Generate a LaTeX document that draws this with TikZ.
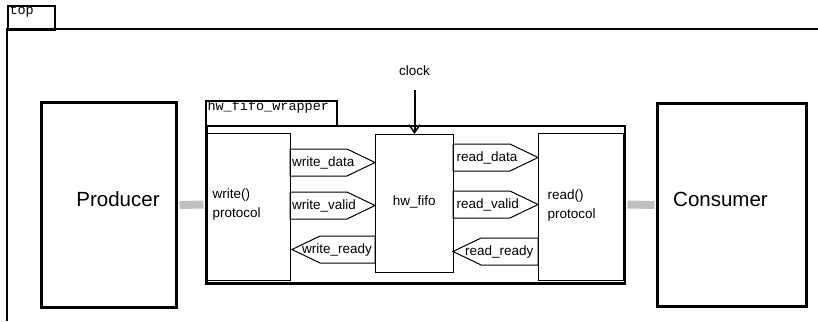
\documentclass[tikz,border=0pt]{standalone}
\usepackage{fontspec}
\setmainfont{Liberation Sans}
\newfontfamily\monof{Liberation Mono}
\usetikzlibrary{arrows.meta}
\tikzset{
  frameline/.style={line width=2pt},
  bigbox/.style={draw, line width=3pt, inner sep=0pt, anchor=north west},
  innerbox/.style={draw, line width=1pt, inner sep=0pt, anchor=north west},
  wrapbox/.style={draw, line width=2.5pt, inner sep=0pt, anchor=north west},
  tabbox/.style={draw, line width=2pt, inner sep=0pt, anchor=north west},
  port/.style={draw, line width=1pt},
  lbl/.style={font=\fontsize{13.5}{19}\selectfont, inner sep=0pt},
  biglbl/.style={font=\fontsize{20.5}{24}\selectfont, inner sep=0pt},
  monolbl/.style={font=\monof\fontsize{13.5}{16}\selectfont, inner sep=0pt},
  bus/.style={line width=8pt, draw=gray!50, shorten <=1.5pt, shorten >=1.5pt},
  clkarrow/.style={line width=2pt, -{Straight Barb[length=8pt,width=11pt,line width=1.5pt]}}
}
\begin{document}
\begin{tikzpicture}[x=1pt,y=-1pt]
\useasboundingbox (0,0) rectangle (818,321);
% top frame
\node[tabbox, minimum width=46.5pt, minimum height=24pt] (toptab) at (7,5) {};
\node[monolbl, anchor=base west] (toplbl) at (9.3,15) {top};
\coordinate (fbl) at (7,321);
\coordinate (ftl) at (7,29);
\coordinate (ftr) at (818,29);
\draw[frameline] (fbl) -- (ftl) -- (ftr);
% producer / consumer / wrapper
\node[bigbox, minimum width=135pt, minimum height=205pt] (prod) at (40,101) {};
\node[bigbox, minimum width=149pt, minimum height=203pt] (cons) at (656,102) {};
\node[wrapbox, minimum width=418.5pt, minimum height=157.5pt] (wrap) at (205,124.5) {};
\draw[bus] (prod.east) -- (wrap.west);
\draw[bus] (wrap.east) -- (cons.west);
\node[biglbl, anchor=base] (prodlbl) at (118,206) {Producer};
\node[biglbl, anchor=base] (conslbl) at (720.5,206) {Consumer};
% wrapper tab
\node[tabbox, minimum width=131pt, minimum height=24.5pt] (wraptab) at (205,100) {};
\node[monolbl, anchor=base west] (wraplbl) at (207.3,110.7) {hw\_fifo\_wrapper};
% inner boxes
\node[innerbox, minimum width=85pt, minimum height=147pt] (wbox) at (205,133) {};
\node[innerbox, minimum width=78pt, minimum height=138pt] (fifo) at (375,134) {};
\node[innerbox, minimum width=85pt, minimum height=147pt] (rbox) at (538,133) {};
\node[lbl, anchor=north west, align=left] (wtxt) at (212.5,188.5) {write()\\protocol};
\node[lbl, anchor=north west, align=left] (rtxt) at (547.5,189.5) {read()\\protocol};
\node[lbl, anchor=base] (fifotxt) at (414.3,205.4) {hw\_fifo};
% ports
\draw[port] (290,149) -- (347,149) -- (375,162.5) -- (347,176) -- (290,176) -- cycle;
\node[lbl, anchor=base west] (wd) at (292,166) {write\_data};
\draw[port] (290,192) -- (347,192) -- (375,205.5) -- (347,219) -- (290,219) -- cycle;
\node[lbl, anchor=base west] (wv) at (292,209) {write\_valid};
\draw[port] (375,236) -- (320,236) -- (292,249.5) -- (320,263) -- (375,263) -- cycle;
\node[lbl, anchor=base west] (wr) at (302,253) {write\_ready};
\draw[port] (453,144) -- (510,144) -- (538,157.5) -- (510,171) -- (453,171) -- cycle;
\node[lbl, anchor=base west] (rd) at (456.5,161) {read\_data};
\draw[port] (453,191) -- (510,191) -- (538,204.5) -- (510,218) -- (453,218) -- cycle;
\node[lbl, anchor=base west] (rv) at (456.5,208) {read\_valid};
\draw[port] (538,238) -- (481,238) -- (453,251.5) -- (481,265) -- (538,265) -- cycle;
\node[lbl, anchor=base west] (rr) at (465,255) {read\_ready};
% clock
\node[lbl, anchor=base] (clk) at (414.5,75) {clock};
\coordinate (clkin) at (414.5,90);
\draw[clkarrow] (clkin) -- (fifo.north);
\end{tikzpicture}
\end{document}
